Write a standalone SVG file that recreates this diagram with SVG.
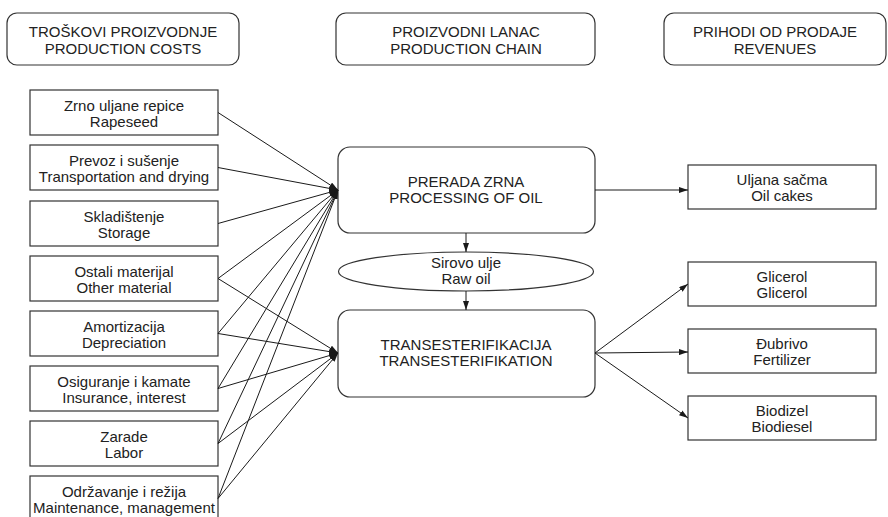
<svg xmlns="http://www.w3.org/2000/svg" width="888" height="517" viewBox="0 0 888 517">
<defs>
<marker id="ah" markerUnits="userSpaceOnUse" markerWidth="9" markerHeight="6" refX="9" refY="3" orient="auto">
<path d="M0,0 L9,3 L0,6 z" fill="#1a1a1a"/>
</marker>
<style>
.b{fill:#fff;stroke:#333;stroke-width:1.2}
.t{font-family:"Liberation Sans",Arial,sans-serif;font-size:15px;fill:#222;text-anchor:middle}
.c{stroke:#1a1a1a;stroke-width:1;fill:none;marker-end:url(#ah)}
</style>
</defs>
<rect width="888" height="517" fill="#fff"/>
<g id="hdr-costs"><rect class="b" x="7" y="13" width="232" height="52" rx="10"/><text class="t" x="123" y="37">TROŠKOVI PROIZVODNJE</text><text class="t" x="123" y="54">PRODUCTION COSTS</text></g>
<g id="hdr-chain"><rect class="b" x="336" y="13" width="259" height="52" rx="10"/><text class="t" x="466" y="37">PROIZVODNI LANAC</text><text class="t" x="466" y="54">PRODUCTION CHAIN</text></g>
<g id="hdr-rev"><rect class="b" x="664" y="13" width="222" height="52" rx="10"/><text class="t" x="775" y="37">PRIHODI OD PRODAJE</text><text class="t" x="775" y="54">REVENUES</text></g>

<g id="c1"><rect class="b" x="30" y="90" width="188" height="45"/><text class="t" x="124" y="111">Zrno uljane repice</text><text class="t" x="124" y="127">Rapeseed</text></g>
<g id="c2"><rect class="b" x="30" y="145" width="188" height="45"/><text class="t" x="124" y="166">Prevoz i sušenje</text><text class="t" x="124" y="182">Transportation and drying</text></g>
<g id="c3"><rect class="b" x="30" y="201" width="188" height="45"/><text class="t" x="124" y="222">Skladištenje</text><text class="t" x="124" y="238">Storage</text></g>
<g id="c4"><rect class="b" x="30" y="256" width="188" height="45"/><text class="t" x="124" y="277">Ostali materijal</text><text class="t" x="124" y="293">Other material</text></g>
<g id="c5"><rect class="b" x="30" y="311" width="188" height="45"/><text class="t" x="124" y="332">Amortizacija</text><text class="t" x="124" y="348">Depreciation</text></g>
<g id="c6"><rect class="b" x="30" y="366" width="188" height="45"/><text class="t" x="124" y="387">Osiguranje i kamate</text><text class="t" x="124" y="403">Insurance, interest</text></g>
<g id="c7"><rect class="b" x="30" y="421" width="188" height="45"/><text class="t" x="124" y="442">Zarade</text><text class="t" x="124" y="458">Labor</text></g>
<g id="c8"><rect class="b" x="30" y="476" width="188" height="45"/><text class="t" x="124" y="497">Održavanje i režija</text><text class="t" x="124" y="513">Maintenance, management</text></g>

<g id="processing"><rect class="b" x="338" y="147" width="257" height="86" rx="12"/><text class="t" x="466" y="187">PRERADA ZRNA</text><text class="t" x="466" y="203">PROCESSING OF OIL</text></g>
<g id="rawoil"><ellipse class="b" cx="466" cy="271.5" rx="127.5" ry="19.5"/><text class="t" x="466" y="268">Sirovo ulje</text><text class="t" x="466" y="284">Raw oil</text></g>
<g id="transest"><rect class="b" x="338" y="310" width="257" height="87" rx="12"/><text class="t" x="466" y="350">TRANSESTERIFIKACIJA</text><text class="t" x="466" y="366">TRANSESTERIFIKATION</text></g>

<g id="r1"><rect class="b" x="688" y="165" width="188" height="44"/><text class="t" x="782" y="185">Uljana sačma</text><text class="t" x="782" y="201">Oil cakes</text></g>
<g id="r2"><rect class="b" x="688" y="262" width="188" height="44"/><text class="t" x="782" y="282">Glicerol</text><text class="t" x="782" y="298">Glicerol</text></g>
<g id="r3"><rect class="b" x="688" y="329" width="188" height="44"/><text class="t" x="782" y="349">Đubrivo</text><text class="t" x="782" y="365">Fertilizer</text></g>
<g id="r4"><rect class="b" x="688" y="396" width="188" height="44"/><text class="t" x="782" y="416">Biodizel</text><text class="t" x="782" y="432">Biodiesel</text></g>

<g id="connectors">
<line class="c" x1="218" y1="112.5" x2="338" y2="190"/>
<line class="c" x1="218" y1="167.5" x2="338" y2="190"/>
<line class="c" x1="218" y1="223.5" x2="338" y2="190"/>
<line class="c" x1="218" y1="278.5" x2="338" y2="190"/>
<line class="c" x1="218" y1="333.5" x2="338" y2="190"/>
<line class="c" x1="218" y1="388.5" x2="338" y2="190"/>
<line class="c" x1="218" y1="443.5" x2="338" y2="190"/>
<line class="c" x1="218" y1="498.5" x2="338" y2="190"/>
<line class="c" x1="218" y1="278.5" x2="338" y2="353"/>
<line class="c" x1="218" y1="333.5" x2="338" y2="353"/>
<line class="c" x1="218" y1="388.5" x2="338" y2="353"/>
<line class="c" x1="218" y1="443.5" x2="338" y2="353"/>
<line class="c" x1="218" y1="498.5" x2="338" y2="353"/>
<line class="c" x1="466" y1="233" x2="466" y2="252"/>
<line class="c" x1="466" y1="291" x2="466" y2="310"/>
<line class="c" x1="595" y1="190" x2="688" y2="190"/>
<line class="c" x1="595" y1="353" x2="688" y2="284"/>
<line class="c" x1="595" y1="353" x2="688" y2="352"/>
<line class="c" x1="595" y1="353" x2="688" y2="418"/>
</g>
</svg>
